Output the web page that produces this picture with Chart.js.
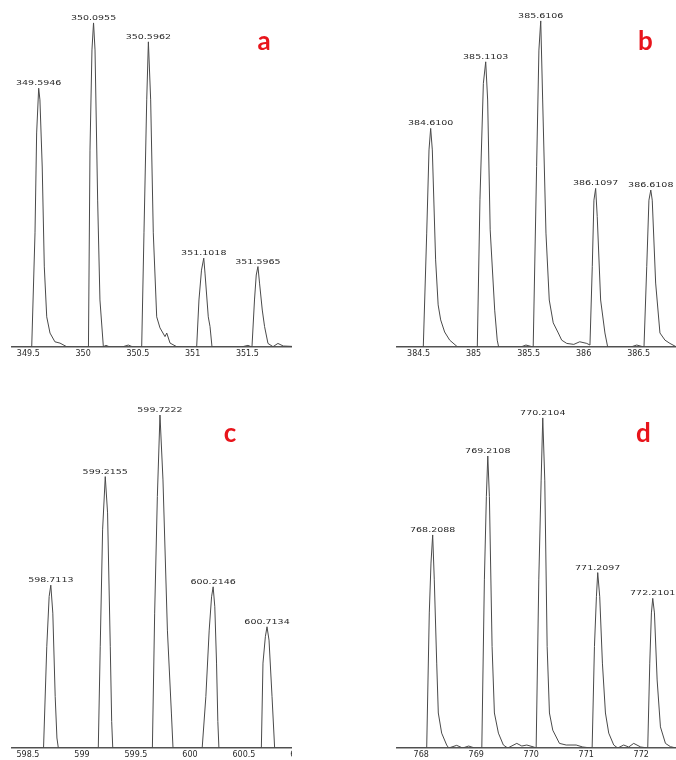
<!DOCTYPE html>
<html>
<head>
<meta charset="utf-8">
<script src="https://cdn.jsdelivr.net/npm/chart.js@4.4.1/dist/chart.umd.min.js"></script>
<style>
  html, body { margin: 0; padding: 0; background: #ffffff; }
  body { width: 676px; height: 760px; position: relative; overflow: hidden; }
  .panel { position: absolute; overflow: hidden; }
  canvas { display: block; }
</style>
</head>
<body>
<div class="panel" style="left:0;top:0;width:292px;height:372px;"><canvas id="panelA" width="320" height="372"></canvas></div>
<div class="panel" style="left:390px;top:0;width:286px;height:372px;"><canvas id="panelB" width="286" height="372"></canvas></div>
<div class="panel" style="left:0;top:380px;width:292px;height:380px;"><canvas id="panelC" width="320" height="380"></canvas></div>
<div class="panel" style="left:390px;top:380px;width:286px;height:380px;"><canvas id="panelD" width="286" height="380"></canvas></div>
<script>
// ---- Panel a: isotope cluster around m/z 350 ----
const mzA = [349.351, 349.531, 349.561, 349.576, 349.5946, 349.606, 349.627, 349.646, 349.668, 349.698, 349.743, 349.789, 349.850, 349.926,
  350.049, 350.063, 350.081, 350.0955, 350.109, 350.133, 350.154, 350.185, 350.209, 350.246,
  350.355, 350.413, 350.456, 350.535, 350.556, 350.581, 350.5962, 350.617, 350.641, 350.672, 350.702, 350.748, 350.764, 350.794, 350.855, 350.903,
  351.037, 351.058, 351.081, 351.1018, 351.113, 351.143, 351.159, 351.177,
  351.444, 351.505, 351.542, 351.565, 351.581, 351.5965, 351.611, 351.636, 351.657, 351.688, 351.734, 351.779, 351.828, 351.901, 352.09];
const intA = [0, 0, 35.2, 66.0, 79.8, 76.2, 55.5, 24.7, 9.3, 4.3, 1.6, 1.2, 0.1, 0,
  0, 60.7, 91.6, 100, 91.6, 45.3, 14.5, 0.1, 0.5, 0,
  0, 0.6, 0, 0, 35.2, 76.2, 94.1, 76.2, 35.2, 9.3, 5.9, 3.2, 4.3, 1.2, 0.1, 0,
  0, 14.5, 23.7, 27.4, 22.8, 9.3, 6.3, 0,
  0, 0.5, 0, 14.5, 22.2, 24.8, 19.7, 11.4, 6.3, 1.1, 0.1, 1.1, 0.3, 0.2, 0];
const peaksA = [349.5946, 350.0955, 350.5962, 351.1018, 351.5965];
const ticksA = [349.5, 350, 350.5, 351, 351.5, 352];
const rangeA = [349.351, 352.09];

// ---- Panel b: isotope cluster around m/z 385 ----
const mzB = [384.304, 384.543, 384.574, 384.595, 384.6100, 384.625, 384.655, 384.678, 384.701, 384.737, 384.783, 384.855,
  385.034, 385.058, 385.089, 385.1103, 385.128, 385.151, 385.192, 385.215, 385.228,
  385.429, 385.476, 385.542, 385.573, 385.594, 385.6106, 385.628, 385.658, 385.688, 385.724, 385.770, 385.801, 385.847, 385.911, 385.965, 386.029,
  386.058, 386.079, 386.094, 386.1097, 386.124, 386.155, 386.194, 386.219,
  386.429, 386.483, 386.549, 386.574, 386.594, 386.6108, 386.624, 386.655, 386.694, 386.740, 386.785, 386.840];
const intB = [0, 0, 34.9, 60.4, 67.0, 60.4, 26.7, 12.9, 8.3, 4.6, 2.1, 0,
  0, 45.1, 80.8, 87.4, 75.7, 35.9, 11.3, 2.1, 0,
  0, 0.6, 0, 55.3, 91.0, 100, 75.7, 34.9, 14.4, 7.4, 4.3, 2.1, 1.1, 0.8, 1.6, 1.1,
  0.6, 24.6, 45.0, 48.6, 40.0, 14.4, 4.3, 0,
  0, 0.6, 0, 24.6, 45.0, 48.1, 45.0, 19.6, 4.3, 2.1, 1.1, 0.1];
const peaksB = [384.6100, 385.1103, 385.6106, 386.1097, 386.6108];
const ticksB = [384.5, 385, 385.5, 386, 386.5];
const rangeB = [384.304, 386.840];

// ---- Panel c: isotope cluster around m/z 600 ----
const mzC = [598.352, 598.644, 598.674, 598.696, 598.7113, 598.730, 598.752, 598.768, 598.781,
  599.151, 599.169, 599.191, 599.2155, 599.237, 599.262, 599.275, 599.285,
  599.652, 599.673, 599.698, 599.7222, 599.750, 599.791, 599.828, 599.843,
  600.113, 600.147, 600.178, 600.200, 600.2146, 600.230, 600.246, 600.258, 600.268,
  600.661, 600.676, 600.698, 600.7134, 600.732, 600.760, 600.784, 601.13];
const intC = [0, 0, 30.4, 45.5, 48.9, 40.5, 15.4, 3.0, 0,
  0, 30.4, 65.5, 81.5, 70.6, 30.4, 8.0, 0,
  0, 40.5, 75.5, 100, 80.5, 35.4, 10.5, 0,
  0, 15.4, 35.4, 45.4, 48.4, 42.4, 25.5, 8.0, 0,
  0, 25.5, 33.4, 36.4, 32.4, 15.4, 0, 0];
const peaksC = [598.7113, 599.2155, 599.7222, 600.2146, 600.7134];
const ticksC = [598.5, 599, 599.5, 600, 600.5, 601];
const rangeC = [598.352, 601.13];

// ---- Panel d: isotope cluster around m/z 770 ----
const mzD = [767.56, 768.100, 768.147, 768.178, 768.2088, 768.238, 768.282, 768.311, 768.372, 768.463, 768.500, 768.645, 768.754, 768.863, 768.972,
  769.102, 769.149, 769.185, 769.2108, 769.240, 769.289, 769.331, 769.404, 769.494, 769.574, 769.738, 769.829, 769.920, 770.047,
  770.090, 770.138, 770.181, 770.2104, 770.247, 770.290, 770.332, 770.392, 770.514, 770.636, 770.818, 770.938, 771.090,
  771.108, 771.150, 771.186, 771.2097, 771.246, 771.295, 771.350, 771.410, 771.501, 771.573, 771.682, 771.773, 771.864, 771.992,
  772.119, 772.156, 772.186, 772.2101, 772.241, 772.290, 772.350, 772.441, 772.532, 772.633];
const intD = [0, 0, 40.9, 56.0, 64.5, 50.9, 25.7, 10.6, 4.5, 0.9, 0, 0.8, 0, 0.6, 0,
  0, 50.9, 76.1, 88.4, 76.1, 30.7, 10.6, 4.5, 0.9, 0, 1.4, 0.6, 0.9, 0.3,
  0, 50.9, 81.1, 100, 81.1, 30.7, 10.6, 5.4, 1.4, 0.9, 0.9, 0.3, 0,
  0, 30.7, 45.8, 53.1, 45.8, 25.7, 10.6, 4.5, 0.9, 0, 0.9, 0.3, 1.4, 0.3,
  0, 25.7, 40.9, 45.3, 40.9, 20.6, 6.4, 1.4, 0.4, 0];
const peaksD = [768.2088, 769.2108, 770.2104, 771.2097, 772.2101];
const ticksD = [768, 769, 770, 771, 772];
const rangeD = [767.56, 772.633];

const LINE_COLOR = '#4a4a4a';
const TEXT_COLOR = '#2a2a2a';
const LETTER_COLOR = '#e8141b';

// Draws the m/z value above each labelled apex and the panel letter.
const annotations = {
  id: 'annotations',
  afterDatasetsDraw(chart, args, opts) {
    const { ctx } = chart;
    const xs = chart.scales.x, ys = chart.scales.y;
    const pts = chart.data.datasets[0].data;
    ctx.save();
    ctx.font = '9.5px "DejaVu Sans"';
    ctx.fillStyle = TEXT_COLOR;
    ctx.textAlign = 'center';
    ctx.textBaseline = 'alphabetic';
    opts.peaks.forEach(m => {
      const p = pts.find(d => d.x === m);
      const px = xs.getPixelForValue(m);
      const py = ys.getPixelForValue(p.y) - 3;
      ctx.save();
      ctx.translate(px, py);
      ctx.scale(1, 0.78);
      ctx.fillText(m.toFixed(4), 0, 0);
      ctx.restore();
    });
    ctx.font = 'bold 26px Lato';
    ctx.fillStyle = LETTER_COLOR;
    ctx.fillText(opts.letter, opts.letterAt[0], opts.letterAt[1]);
    ctx.restore();
  }
};

function makePanel(id, mz, inten, peaks, ticks, range, layout) {
  const points = mz.map((m, i) => ({ x: m, y: inten[i] }));
  return new Chart(document.getElementById(id), {
    type: 'line',
    data: {
      datasets: [{
        data: points,
        borderColor: LINE_COLOR,
        borderWidth: 1,
        pointRadius: 0,
        tension: 0,
        fill: false
      }]
    },
    options: {
      responsive: false,
      animation: false,
      devicePixelRatio: 1,
      layout: { padding: layout.padding },
      scales: {
        x: {
          type: 'linear',
          min: range[0],
          max: range[1],
          afterBuildTicks: (scale) => { scale.ticks = ticks.map(v => ({ value: v })); },
          afterFit: (scale) => { scale.height = 12; scale.paddingLeft = 0; scale.paddingRight = 0; },
          grid: { display: false, drawTicks: false },
          border: { display: true, color: '#555555', width: 1.5 },
          ticks: {
            autoSkip: false,
            maxRotation: 0,
            padding: 2,
            color: TEXT_COLOR,
            font: { family: '"DejaVu Sans"', size: 8 },
            callback: (v) => String(v)
          }
        },
        y: { display: false, min: 0, max: 100 }
      },
      plugins: {
        legend: { display: false },
        tooltip: { enabled: false },
        annotations: { peaks: peaks, letter: layout.letter, letterAt: layout.letterAt }
      }
    },
    plugins: [annotations]
  });
}

makePanel('panelA', mzA, intA, peaksA, ticksA, rangeA,
  { padding: { left: 12, right: 8, top: 22.7, bottom: 13 }, letter: 'a', letterAt: [264, 50] });
makePanel('panelB', mzB, intB, peaksB, ticksB, rangeB,
  { padding: { left: 7, right: 0, top: 20.7, bottom: 13 }, letter: 'b', letterAt: [255.5, 50] });
makePanel('panelC', mzC, intC, peaksC, ticksC, rangeC,
  { padding: { left: 12, right: 8, top: 35, bottom: 0 }, letter: 'c', letterAt: [230, 62] });
makePanel('panelD', mzD, intD, peaksD, ticksD, rangeD,
  { padding: { left: 7, right: 0, top: 37.7, bottom: 0 }, letter: 'd', letterAt: [253.5, 62] });
</script>
</body>
</html>
